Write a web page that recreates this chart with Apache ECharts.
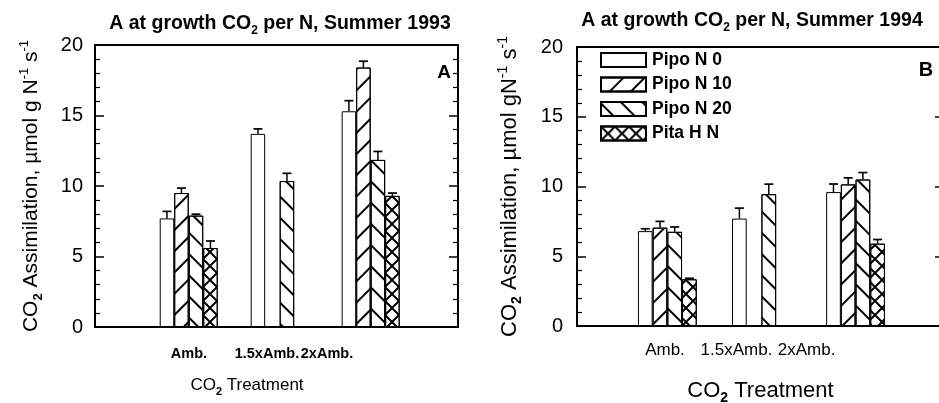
<!DOCTYPE html>
<html><head><meta charset="utf-8">
<script src="https://cdn.jsdelivr.net/npm/echarts@6/dist/echarts.min.js"></script>
<style>html,body{margin:0;padding:0;background:#fff}#c{width:939px;height:403px}</style>
</head><body><div id="c"></div>
<script>
// ---------- data ----------
const categories = ['Amb.', '1.5xAmb.', '2xAmb.'];
const seriesNames = ['Pipo N 0', 'Pipo N 10', 'Pipo N 20', 'Pita H N'];
const yTickLabels = ['0', '5', '10', '15', '20'];

// Summer 1993 (panel A): means
const a1993_pipoN0  = [7.7, 13.7, 15.3];
const a1993_pipoN10 = [9.5, null, 18.4];
const a1993_pipoN20 = [7.9, 10.35, 11.85];
const a1993_pitaHN  = [5.6, null, 9.3];
// Summer 1993: standard errors
const e1993_pipoN0  = [0.5, 0.35, 0.75];
const e1993_pipoN10 = [0.35, null, 0.45];
const e1993_pipoN20 = [0.1, 0.55, 0.6];
const e1993_pitaHN  = [0.5, null, 0.2];

// Summer 1994 (panel B): means
const a1994_pipoN0  = [6.8, 7.7, 9.6];
const a1994_pipoN10 = [7.05, null, 10.15];
const a1994_pipoN20 = [6.75, 9.45, 10.5];
const a1994_pitaHN  = [3.35, null, 5.9];
// Summer 1994: standard errors
const e1994_pipoN0  = [0.17, 0.75, 0.58];
const e1994_pipoN10 = [0.45, null, 0.47];
const e1994_pipoN20 = [0.35, 0.72, 0.5];
const e1994_pitaHN  = [0.07, null, 0.3];

// ---------- layout / style ----------
const FONT = "'Liberation Sans', Arial, sans-serif";
const decals = [
  null,
  { symbol: 'rect', symbolSize: 1, dashArrayX: [1, 0], dashArrayY: [1.3, 12.5], rotation: -Math.PI / 4, color: '#000' },
  { symbol: 'rect', symbolSize: 1, dashArrayX: [1, 0], dashArrayY: [1.3, 12.5], rotation: Math.PI / 4, color: '#000' },
  { symbol: 'path://M0 0L1.2 0L12 10.8L12 12L10.8 12L0 1.2Z M10.8 0L12 0L12 1.2L1.2 12L0 12L0 10.8Z',
    symbolSize: 1, dashArrayX: [14, 0], dashArrayY: [14, 0], color: '#000' }
];

const panels = [
  {
    means: [a1993_pipoN0, a1993_pipoN10, a1993_pipoN20, a1993_pitaHN],
    errs: [e1993_pipoN0, e1993_pipoN10, e1993_pipoN20, e1993_pitaHN],
    grid: { left: 95, right: 481, top: 45, bottom: 76 },
    xMin: -0.03, xMax: 3.96, labelPos: [1.003, 1.86, 2.52], barW: 14.5,
    tickFont: { fontSize: 14.5, fontWeight: 'bold' }, tickMargin: 19,
    xName: '{n|CO}{s|2}{n| Treatment}', xNameSize: 17, xNameGap: 47, xNamePad: [0, 59, 0, 0],
    yName: '{n|CO}{s|2}{n| Assimilation, µmol g N}{p|-1}{n| s}{p|-1}', yNameSize: 21, yNameGap: 50,
    yLabelMargin: 12
  },
  {
    means: [a1994_pipoN0, a1994_pipoN10, a1994_pipoN20, a1994_pitaHN],
    errs: [e1994_pipoN0, e1994_pipoN10, e1994_pipoN20, e1994_pitaHN],
    grid: { left: 577, right: -5, top: 47, bottom: 77 },
    xMin: 0.04, xMax: 3.94, labelPos: [0.975, 1.735, 2.48], barW: 14.7,
    tickFont: { fontSize: 17, fontWeight: 'normal' }, tickMargin: 16,
    xName: '{n|CO}{s|2}{n| Treatment}', xNameSize: 22, xNameGap: 51, xNamePad: [0, 0, 0, 0],
    yName: '{n|CO}{s|2}{n| Assimilation, µmol gN}{p|-1}{n| s}{p|-1}', yNameSize: 22, yNameGap: 53,
    yLabelMargin: 14
  }
];

function richFor(size, bold) {
  const w = bold ? 'bold' : 'normal';
  return {
    n: { fontSize: size, fontWeight: w, fontFamily: FONT, color: '#000', lineHeight: size + 6 },
    s: { fontSize: Math.round(size * 0.62), fontWeight: 'bold', fontFamily: FONT, color: '#000', verticalAlign: 'bottom' },
    p: { fontSize: Math.round(size * 0.62), fontWeight: w, fontFamily: FONT, color: '#000', verticalAlign: 'top' }
  };
}

const grids = [], xAxes = [], yAxes = [], series = [];
panels.forEach((P, pi) => {
  grids.push(Object.assign({ containLabel: false, outerBoundsMode: 'none' }, P.grid));
  const axLine = { show: true, onZero: false, lineStyle: { color: '#000', width: 2 } };
  xAxes.push({
    type: 'value', gridIndex: pi, position: 'bottom', min: P.xMin, max: P.xMax,
    axisLine: axLine, axisTick: { show: false }, splitLine: { show: false },
    axisLabel: {
      customValues: P.labelPos, margin: P.tickMargin, color: '#000', fontFamily: FONT,
      fontSize: P.tickFont.fontSize, fontWeight: P.tickFont.fontWeight, hideOverlap: false,
      showMinLabel: true, showMaxLabel: true,
      formatter: v => categories[P.labelPos.indexOf(v)] || ''
    },
    name: P.xName, nameLocation: 'middle', nameGap: P.xNameGap,
    nameTextStyle: { padding: P.xNamePad, rich: richFor(P.xNameSize, false) }
  });
  xAxes.push({
    type: 'value', gridIndex: pi, position: 'top', min: P.xMin, max: P.xMax,
    axisLine: axLine, axisTick: { show: false }, splitLine: { show: false }, axisLabel: { show: false }
  });
  const yCommon = {
    type: 'value', gridIndex: pi, min: 0, max: 20, interval: 5,
    axisLine: axLine, splitLine: { show: false },
    axisTick: { show: true, inside: true, length: 9, lineStyle: { color: '#000', width: 1.5 } },
    minorTick: { show: true, splitNumber: 5, length: 5, lineStyle: { color: '#000', width: 1.2 } }
  };
  yAxes.push(Object.assign({}, yCommon, {
    position: 'left',
    axisLabel: { color: '#000', fontFamily: FONT, fontSize: 20, margin: P.yLabelMargin,
      formatter: v => yTickLabels[Math.round(v / 5)] },
    name: P.yName, nameLocation: 'middle', nameRotate: 90, nameGap: P.yNameGap,
    nameTextStyle: { rich: richFor(P.yNameSize, false) }
  }));
  yAxes.push(Object.assign({}, yCommon, { position: 'right', axisLabel: { show: false } }));

  P.means.forEach((vals, k) => {
    series.push({
      type: 'bar', name: seriesNames[k], xAxisIndex: pi * 2, yAxisIndex: pi * 2,
      barWidth: P.barW, barGap: '0%',
      data: vals.map((v, i) => v == null ? null : [i + 1, v]).filter(d => d),
      itemStyle: Object.assign({ color: '#fff', borderColor: '#000', borderWidth: 1 },
        decals[k] ? { decal: decals[k] } : {}),
      emphasis: { disabled: true }
    });
  });
  const errData = [];
  P.means.forEach((vals, k) => vals.forEach((v, i) => {
    if (v != null) errData.push([i + 1, v, P.errs[k][i], k]);
  }));
  const barW = P.barW;
  series.push({
    type: 'custom', name: 'err' + pi, xAxisIndex: pi * 2, yAxisIndex: pi * 2, z: 5,
    encode: { x: 0, y: 1 }, data: errData,
    renderItem: (params, api) => {
      const x = api.value(0), m = api.value(1), e = api.value(2), k = api.value(3);
      const p0 = api.coord([x, m]);
      const p1 = api.coord([x, m + e]);
      const cx = p0[0] + (k - 1.5) * barW;
      return { type: 'group', children: [
        { type: 'line', shape: { x1: cx, y1: p0[1], x2: cx, y2: p1[1] }, style: { stroke: '#000', lineWidth: 1.5 } },
        { type: 'line', shape: { x1: cx - 4.5, y1: p1[1], x2: cx + 4.5, y2: p1[1] }, style: { stroke: '#000', lineWidth: 1.7 } }
      ] };
    }
  });
});

const titleRich = richFor(19.5, true);
const option = {
  animation: false,
  backgroundColor: '#fff',
  title: [
    { text: '{n|A at growth CO}{s|2}{n| per N, Summer 1993}', left: 275, top: 6, textAlign: 'center',
      textStyle: { rich: titleRich } },
    { text: '{n|A at growth CO}{s|2}{n| per N, Summer 1994}', left: 747, top: 3, textAlign: 'center',
      textStyle: { rich: titleRich } },
    { text: 'A', left: 439, top: 58, textAlign: 'center',
      textStyle: { fontSize: 19, fontWeight: 'bold', fontFamily: FONT, color: '#000' } },
    { text: 'B', left: 921, top: 55, textAlign: 'center',
      textStyle: { fontSize: 20, fontWeight: 'bold', fontFamily: FONT, color: '#000' } }
  ],
  legend: {
    data: seriesNames, orient: 'vertical', left: 595, top: 46,
    itemWidth: 45, itemHeight: 14, itemGap: 6.5, icon: 'rect', selectedMode: false,
    textStyle: { fontSize: 17.5, fontWeight: 'bold', fontFamily: FONT, color: '#000', padding: [0, 0, 0, 1] }
  },
  grid: grids, xAxis: xAxes, yAxis: yAxes, series: series
};
const chart = echarts.init(document.getElementById('c'), null, { renderer: 'canvas' });
chart.setOption(option);
</script></body></html>
